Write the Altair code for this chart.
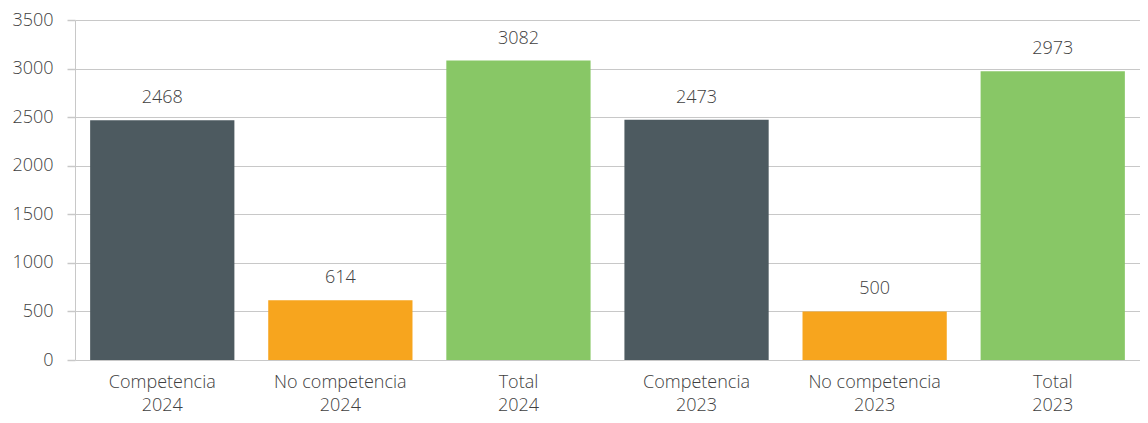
import altair as alt
import pandas as pd

categories = ["Competencia\n2024", "No competencia\n2024", "Total\n2024",
              "Competencia\n2023", "No competencia\n2023", "Total\n2023"]
values = [2468, 614, 3082, 2473, 500, 2973]
colors = ["#4D5A60", "#F7A51E", "#88C766", "#4D5A60", "#F7A51E", "#88C766"]
y_ticks = [0, 500, 1000, 1500, 2000, 2500, 3000, 3500]

df = pd.DataFrame({"cat": categories, "value": values, "color": colors})

FONT = "Open Sans"
TXT = "#404040"
FS = 18

base = alt.Chart(df).encode(
    x=alt.X("cat:N", sort=categories, title=None,
            scale=alt.Scale(paddingInner=0.19, paddingOuter=0.085),
            axis=alt.Axis(labelAngle=0, labelExpr="split(datum.label, '\\n')",
                          labelFontSize=FS, labelColor=TXT, labelFont=FONT,
                          labelFontWeight=300, labelLineHeight=23,
                          labelPadding=13, ticks=False, domain=False)),
)

bars = base.mark_bar().encode(
    y=alt.Y("value:Q", title=None,
            scale=alt.Scale(domain=[0, 3500], nice=False),
            axis=alt.Axis(values=y_ticks, format="d",
                          labelFontSize=FS, labelColor=TXT, labelFont=FONT,
                          labelFontWeight=300, tickSize=8, tickColor="#C8C8C8",
                          gridColor="#C8C8C8", domainColor="#C8C8C8",
                          labelPadding=14, tickWidth=1.5, gridWidth=1.2)),
    color=alt.Color("color:N", scale=None),
)

labels = base.mark_text(baseline="bottom", dy=-13, fontSize=FS, font=FONT,
                        fontWeight=300, color=TXT).encode(
    y="value:Q",
    text=alt.Text("value:Q", format="d"),
)

chart = (bars + labels).properties(
    width=1065, height=340,
    padding={"left": 67, "top": 12, "right": 0, "bottom": 55},
    autosize=alt.AutoSizeParams(type="none"),
).configure_view(stroke=None).configure_axis(grid=True)
chart = chart.configure_axisX(grid=False)

chart.save("out.html", embed_options={"renderer": "svg", "actions": False})
